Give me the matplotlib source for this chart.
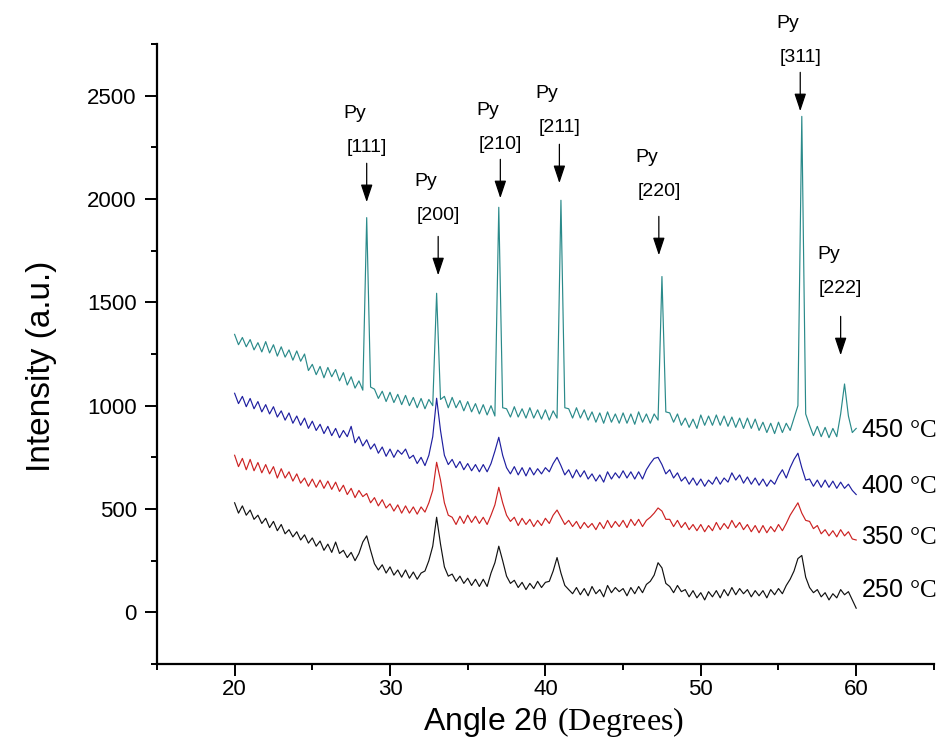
import numpy as np
import matplotlib
matplotlib.use("Agg")
import matplotlib.pyplot as plt
from matplotlib.ticker import MultipleLocator

plt.rcParams["font.family"] = ["Liberation Sans", "DejaVu Sans"]
plt.rcParams["mathtext.fontset"] = "custom"
plt.rcParams["mathtext.rm"] = "Liberation Serif"

# 2-theta sampling (0.25 deg steps, 20..60)
two_theta = np.arange(20, 60.001, 0.25)

# intensities, one value per 0.25 deg
i_250 = [
    530, 480, 515, 470, 495, 450, 470, 430,
    455, 410, 440, 395, 425, 380, 400, 365,
    390, 350, 375, 335, 360, 320, 345, 300,
    330, 290, 340, 285, 300, 265, 290, 250,
    285, 340, 370, 300, 235, 205, 230, 190,
    220, 180, 205, 170, 205, 165, 195, 160,
    190, 200, 250, 320, 460, 330, 220, 175,
    185, 150, 175, 140, 165, 130, 160, 125,
    160, 125, 190, 240, 320, 250, 175, 140,
    155, 120, 145, 110, 140, 115, 150, 120,
    145, 150, 200, 265, 190, 130, 110, 90,
    120, 85, 115, 80, 125, 90, 110, 75,
    130, 95, 120, 100, 115, 80, 120, 90,
    125, 95, 135, 150, 180, 240, 215, 140,
    125, 95, 130, 100, 110, 75, 105, 70,
    95, 60, 100, 75, 105, 70, 110, 80,
    120, 85, 115, 90, 110, 75, 105, 80,
    105, 70, 110, 85, 115, 90, 130, 160,
    200, 260, 275, 170, 120, 95, 110, 75,
    95, 60, 90, 70, 110, 85, 100, 60,
    20,
]
i_350 = [
    760, 705, 745, 690, 740, 685, 725, 675,
    715, 670, 705, 650, 695, 650, 680, 635,
    670, 625, 650, 610, 645, 605, 640, 600,
    635, 595, 630, 585, 615, 570, 600, 555,
    590, 560, 575, 530, 555, 515, 545, 505,
    525, 490, 520, 480, 515, 480, 510, 475,
    510, 485, 530, 590, 726, 640, 530, 470,
    460, 425, 465, 430, 470, 435, 465, 430,
    460, 425, 470, 520, 605, 530, 470, 440,
    460, 420, 455, 425, 450, 415, 445, 420,
    455, 430, 470, 495, 460, 425, 445, 415,
    440, 405, 435, 410, 430, 400, 435, 405,
    445, 410, 440, 415, 445, 410, 450, 420,
    450, 415, 445, 460, 480, 505, 490, 450,
    450, 415, 445, 410, 435, 400, 425, 395,
    425, 390, 420, 395, 435, 400, 430, 405,
    445, 410, 435, 400, 425, 390, 420, 385,
    420, 385, 415, 390, 425, 395, 430, 470,
    500, 530, 480, 445, 440, 405, 420, 380,
    400, 370, 395, 365, 400, 370, 390, 355,
    350,
]
i_400 = [
    1060, 1010, 1045, 995, 1035, 985, 1020, 970,
    1005, 960, 995, 945, 975, 930, 965, 915,
    950, 905, 940, 890, 925, 880, 910, 865,
    900, 855, 890, 845, 880, 850, 900, 820,
    850, 805, 835, 790, 815, 770, 800, 755,
    790, 750, 785, 765, 790, 745, 760, 720,
    750, 710, 760, 850, 1036, 880, 760, 715,
    740, 700, 730, 690, 720, 685, 715, 680,
    715, 680, 720, 780, 847, 760, 700, 670,
    705, 665, 700, 660, 700, 665, 695, 670,
    700, 680, 720, 750, 710, 665, 690, 650,
    690, 655, 685, 645, 670, 635, 665, 630,
    680, 645, 675, 650, 685, 650, 680, 645,
    680, 645, 690, 720, 745, 750, 715, 670,
    690, 650, 675, 635, 655, 620, 650, 615,
    645, 610, 640, 620, 655, 620, 650, 630,
    675, 640, 665, 625, 655, 620, 650, 615,
    645, 610, 640, 620, 660, 690, 650, 700,
    740, 770, 700, 640, 645, 610, 640, 605,
    640, 605, 635, 600, 630, 600, 620, 590,
    570,
]
i_450 = [
    1345, 1295, 1330, 1285, 1320, 1270, 1305, 1260,
    1310, 1255, 1295, 1240, 1285, 1235, 1270, 1220,
    1265, 1215, 1250, 1170, 1200, 1150, 1190, 1135,
    1185, 1140, 1175, 1120, 1160, 1100, 1140, 1085,
    1120, 1075, 1910, 1090, 1080, 1035, 1070, 1020,
    1065, 1015, 1055, 1005, 1050, 1000, 1040, 990,
    1035, 985, 1030, 1000, 1544, 1030, 1045, 990,
    1040, 990, 1025, 975, 1020, 970, 1010, 960,
    1005, 955, 1000, 950, 1960, 990, 985, 945,
    995, 945, 985, 940, 990, 940, 980, 935,
    980, 930, 975, 940, 1994, 990, 985, 940,
    990, 940, 980, 930, 970, 920, 965, 915,
    970, 920, 960, 915, 965, 915, 960, 910,
    970, 920, 960, 915, 960, 930, 1625, 970,
    965, 920, 960, 905, 940, 895, 935, 890,
    955, 905, 950, 905, 955, 905, 950, 900,
    945, 895, 940, 890, 940, 890, 935, 880,
    920, 870, 915, 865, 920, 870, 915, 880,
    940, 1000, 2400, 960, 905, 855, 900, 850,
    895, 845, 890, 850, 960, 1105, 950, 870,
    890,
]

series = [i_450, i_400, i_350, i_250]
temp_labels = ["450", "400", "350", "250"]
colors = ["#2a8a8a", "#1f1fa0", "#cc2222", "#111111"]
temp_label_y = [880, 610, 363, 110]

# peak annotations
peak_hkl = ["[111]", "[200]", "[210]", "[211]", "[220]", "[311]", "[222]"]
peak_x = [28.5, 33.1, 37.1, 40.9, 47.3, 56.4, 59.0]
arrow_tip = [1985, 1631, 2004, 2077, 1728, 2425, 1244]
hkl_y = [2251, 1922, 2265, 2348, 2038, 2686, 1568]
ARROW_LEN = 188

fig = plt.figure(figsize=(9.51, 7.38), dpi=100)
ax = fig.add_axes([0.165, 0.1003, 0.817, 0.840])

for y, c in zip(series, colors):
    ax.plot(two_theta, y, color=c, lw=0.85)

for lab, ly in zip(temp_labels, temp_label_y):
    ax.text(60.3, ly, lab + r" $\mathrm{°C}$", ha="left", va="center",
            fontsize=18)

for hkl, x, tip, hy in zip(peak_hkl, peak_x, arrow_tip, hkl_y):
    ax.annotate("", xy=(x, tip), xytext=(x, tip + ARROW_LEN),
                arrowprops=dict(arrowstyle="-|>,head_length=0.6,head_width=0.2",
                                color="black", lw=0.9, mutation_scale=18,
                                shrinkA=0, shrinkB=0))
    ax.text(x, hy, hkl, ha="center", va="center", fontsize=14)
    ax.annotate("Py", xy=(x, hy), xytext=(-17, 24.5),
                textcoords="offset points", ha="left", va="center",
                fontsize=14, annotation_clip=False)

ax.set_xlim(15, 65)
ax.set_ylim(-250, 2750)
ax.xaxis.set_major_locator(MultipleLocator(10))
ax.xaxis.set_minor_locator(MultipleLocator(5))
ax.yaxis.set_major_locator(MultipleLocator(500))
ax.yaxis.set_minor_locator(MultipleLocator(250))
ax.set_xticks([20, 30, 40, 50, 60])

for side in ["top", "right"]:
    ax.spines[side].set_visible(False)
for side in ["left", "bottom"]:
    ax.spines[side].set_linewidth(1.6)

ax.tick_params(which="major", direction="out", length=8.5, width=1.4,
               labelsize=16)
ax.tick_params(which="minor", direction="out", length=4, width=1.4)
ax.tick_params(axis="y", pad=6)
ax.tick_params(axis="x", pad=2)

ax.set_ylabel("Intensity (a.u.)", fontsize=24)
ax.yaxis.set_label_coords(-0.128, 0.48)
ax.set_xlabel(r"Angle 2$\mathrm{θ\ (Degrees)}$", fontsize=23)
ax.xaxis.set_label_coords(0.51, -0.066)

fig.savefig("out.png", dpi=100)
